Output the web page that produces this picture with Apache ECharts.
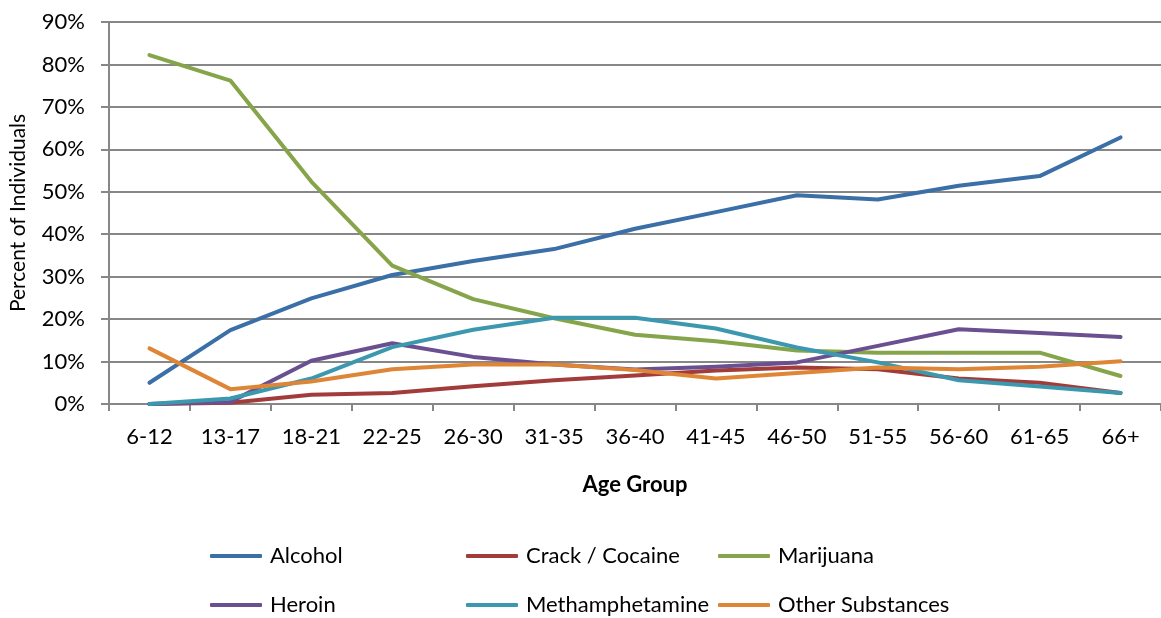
<!DOCTYPE html>
<html>
<head>
<meta charset="utf-8">
<script src="https://cdn.jsdelivr.net/npm/echarts@6/dist/echarts.min.js"></script>
<style>
    html, body {
        margin: 0;
        padding: 0;
        background: #fff;
    }
    #age-chart {
        width: 1161px;
        height: 618px;
    }
</style>
</head>
<body>
<div id="age-chart"></div>
<script>
    // age groups on the x axis
    var ageGroups = ['6-12', '13-17', '18-21', '22-25', '26-30', '31-35', '36-40',
        '41-45', '46-50', '51-55', '56-60', '61-65', '66+'];

    // percent of individuals
    var alcohol = [5.0, 17.4, 24.9, 30.4, 33.7, 36.5, 41.3, 45.2, 49.2, 48.2, 51.4, 53.7, 62.8];
    var crackCocaine = [0, 0.3, 2.2, 2.6, 4.2, 5.6, 6.7, 7.9, 8.6, 8.2, 6.0, 5.0, 2.6];
    var marijuana = [82.2, 76.2, 52.4, 32.6, 24.7, 20.2, 16.3, 14.8, 12.6, 12.1, 12.1, 12.1, 6.6];
    var heroin = [0, 0.5, 10.2, 14.3, 11.1, 9.3, 8.1, 8.8, 9.8, 13.7, 17.6, 16.7, 15.8];
    var meth = [0, 1.3, 6.0, 13.4, 17.5, 20.3, 20.3, 17.8, 13.3, 9.8, 5.6, 4.1, 2.6];
    var otherSubstances = [13.1, 3.5, 5.3, 8.2, 9.3, 9.3, 8.0, 6.0, 7.3, 8.6, 8.2, 8.8, 10.1];

    var font = 'Lato, "Liberation Sans", sans-serif';
    var gridGray = '#878787';

    function makeLine(name, data, color) {
        return {
            name: name,
            type: 'line',
            data: data,
            symbol: 'none',
            smooth: false,
            lineStyle: {width: 4, color: color, cap: 'round', join: 'round'},
            itemStyle: {color: color}
        };
    }

    // one legend per column, two rows each
    function makeLegend(left, names) {
        return {
            left: left,
            top: 545,
            padding: 0,
            orient: 'vertical',
            icon: 'roundRect',
            itemWidth: 52,
            itemHeight: 4,
            itemGap: 27,
            data: names,
            textStyle: {fontFamily: font, fontSize: 22, color: '#000', lineHeight: 22, padding: [0, 0, 0, 3]}
        };
    }

    var myChart = echarts.init(document.getElementById('age-chart'));
    var option = {
        animation: false,
        backgroundColor: '#fff',
        grid: {left: 105, right: -8, top: 22, bottom: 214, containLabel: false},
        legend: [
            makeLegend(210, ['Alcohol', 'Heroin']),
            makeLegend(466, ['Crack / Cocaine', 'Methamphetamine']),
            makeLegend(718, ['Marijuana', 'Other Substances'])
        ],
        xAxis: {
            type: 'category',
            data: ageGroups,
            boundaryGap: true,
            name: 'Age Group',
            nameLocation: 'middle',
            nameGap: 70,
            nameTextStyle: {fontFamily: font, fontSize: 22, fontWeight: 'bold', color: '#000'},
            axisLine: {lineStyle: {color: gridGray, width: 2}},
            axisTick: {show: true, length: 7, lineStyle: {color: gridGray, width: 2}},
            axisLabel: {fontFamily: font, fontSize: 22, color: '#000', margin: 22},
            splitLine: {show: false}
        },
        yAxis: {
            type: 'value',
            min: 0,
            max: 90,
            interval: 10,
            name: 'Percent of Individuals',
            nameLocation: 'middle',
            nameGap: 80,
            nameRotate: 90,
            nameTextStyle: {fontFamily: font, fontSize: 21, color: '#000'},
            axisLine: {show: true, lineStyle: {color: gridGray, width: 2}},
            axisTick: {show: true, length: 8, lineStyle: {color: gridGray, width: 2}},
            axisLabel: {fontFamily: font, fontSize: 22, color: '#000', margin: 24, formatter: '{value}%'},
            splitLine: {show: true, lineStyle: {color: gridGray, width: 2}}
        },
        series: [
            makeLine('Alcohol', alcohol, '#3b6fa7'),
            makeLine('Crack / Cocaine', crackCocaine, '#a23c3a'),
            makeLine('Marijuana', marijuana, '#86a44a'),
            makeLine('Heroin', heroin, '#6a5090'),
            makeLine('Methamphetamine', meth, '#3c98ae'),
            makeLine('Other Substances', otherSubstances, '#de8636')
        ]
    };
    myChart.setOption(option);
</script>
</body>
</html>
